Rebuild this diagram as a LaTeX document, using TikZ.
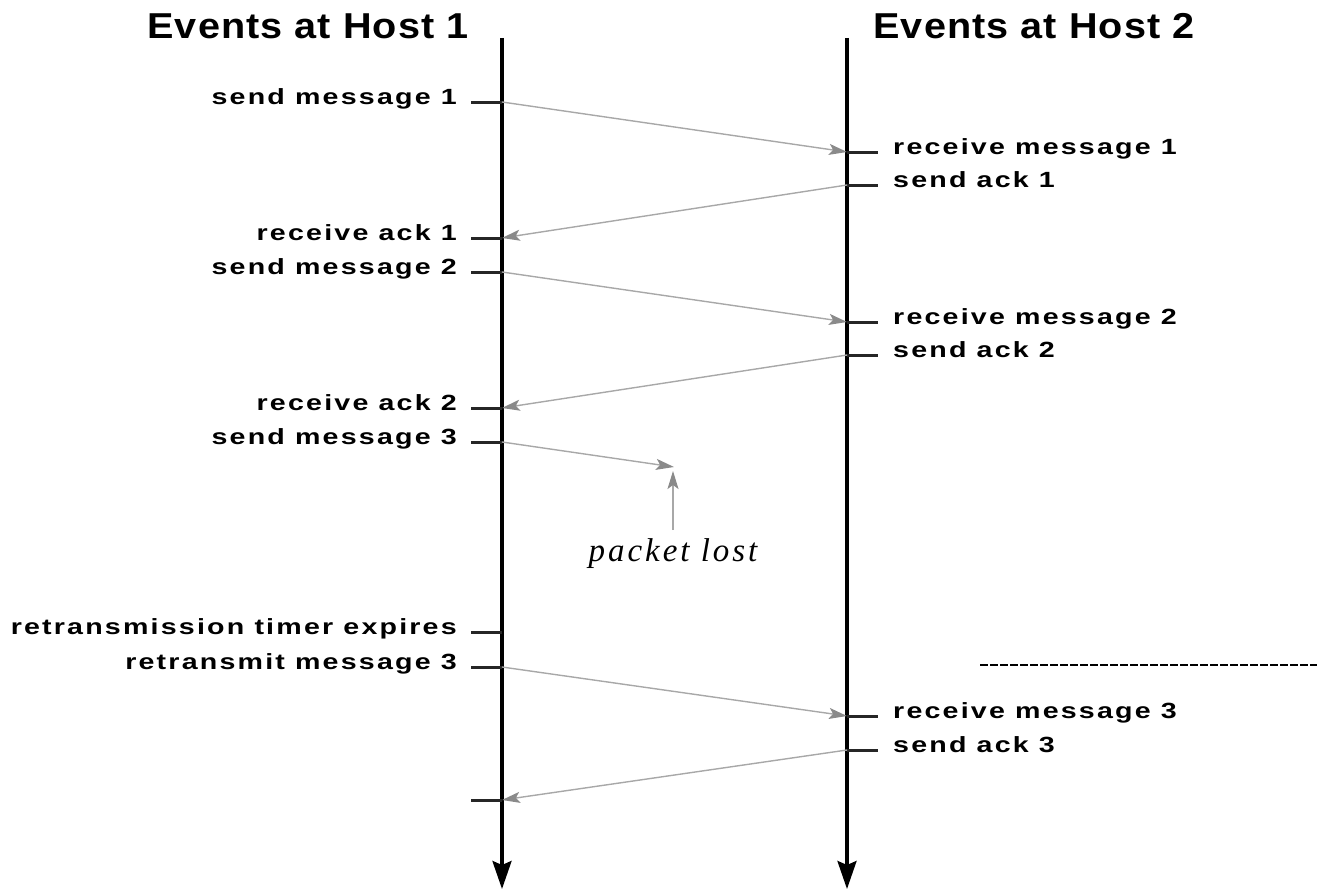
\documentclass[tikz,border=0pt]{standalone}
\usepackage{fontspec}
\usetikzlibrary{arrows.meta}
\newfontfamily\lblfont{Liberation Sans}[FakeStretch=1.3, LetterSpace=10]
\newfontfamily\ttlfont{Liberation Sans}[FakeStretch=1.1, LetterSpace=3]
\newfontfamily\lostfont{Liberation Serif}[LetterSpace=9]
\definecolor{msggray}{HTML}{A8A8A8}
\definecolor{tipgray}{HTML}{8A8A8A}
\tikzset{
  timeline/.style={line width=3.2pt, black, -{Stealth[length=28pt,width=19pt,inset=4pt]}},
  tick/.style={line width=3pt, black!85},
  msg/.style={line width=1.4pt, msggray, -{Stealth[length=18pt,width=11pt,inset=4pt,color=tipgray]}},
  lbl/.style={inner sep=0pt, font=\lblfont\bfseries\fontsize{22}{26}\selectfont},
  ttl/.style={inner sep=0pt, anchor=base, font=\ttlfont\bfseries\fontsize{36}{40}\selectfont},
  lost/.style={inner sep=0pt, anchor=base, font=\lostfont\itshape\fontsize{33}{38}\selectfont}
}
\begin{document}
\begin{tikzpicture}[x=1pt, y=-1pt]
\useasboundingbox (0,0) rectangle (1317,891);

% host time axes
\coordinate (h1top) at (502,38);
\coordinate (h1end) at (502,889);
\coordinate (h2top) at (847,38);
\coordinate (h2end) at (847,889);
\draw[timeline] (h1top) -- (h1end);
\draw[timeline] (h2top) -- (h2end);

\node[ttl] (t1) at (308,39) {Events at Host 1};
\node[ttl] (t2) at (1034,39) {Events at Host 2};

% event points on host 1
\coordinate (a1) at (502,102);
\coordinate (a2) at (502,238);
\coordinate (a3) at (502,272);
\coordinate (a4) at (502,408);
\coordinate (a5) at (502,442);
\coordinate (a6) at (502,632);
\coordinate (a7) at (502,667);
\coordinate (a8) at (502,800);
% event points on host 2
\coordinate (b1) at (847,152);
\coordinate (b2) at (847,185);
\coordinate (b3) at (847,322);
\coordinate (b4) at (847,355);
\coordinate (b5) at (847,716);
\coordinate (b6) at (847,750);

% ticks
\foreach \p in {a1,a2,a3,a4,a5,a6,a7,a8} \draw[tick] (\p) -- ++(-31,0);
\foreach \p in {b1,b2,b3,b4,b5,b6} \draw[tick] (\p) -- ++(31,0);

% host 1 labels
\node[lbl, anchor=mid east] (la1) at (457,102) {send message 1};
\node[lbl, anchor=mid east] (la2) at (457,238) {receive ack 1};
\node[lbl, anchor=mid east] (la3) at (457,272) {send message 2};
\node[lbl, anchor=mid east] (la4) at (457,408) {receive ack 2};
\node[lbl, anchor=mid east] (la5) at (457,442) {send message 3};
\node[lbl, anchor=mid east] (la6) at (457,632) {retransmission timer expires};
\node[lbl, anchor=mid east] (la7) at (457,667) {retransmit message 3};
% host 2 labels
\node[lbl, anchor=mid west] (lb1) at (893,152) {receive message 1};
\node[lbl, anchor=mid west] (lb2) at (893,185) {send ack 1};
\node[lbl, anchor=mid west] (lb3) at (893,322) {receive message 2};
\node[lbl, anchor=mid west] (lb4) at (893,355) {send ack 2};
\node[lbl, anchor=mid west] (lb5) at (893,716) {receive message 3};
\node[lbl, anchor=mid west] (lb6) at (893,750) {send ack 3};

% messages and acknowledgements
\draw[msg] (a1) -- (b1);
\draw[msg] (b2) -- (a2);
\draw[msg] (a3) -- (b3);
\draw[msg] (b4) -- (a4);
\coordinate (lostpt) at (674,467);
\draw[msg] (a5) -- (lostpt);
\draw[msg] (a7) -- (b5);
\draw[msg] (b6) -- (a8);

% lost packet annotation
\node[lost] (lost) at (673,561) {packet lost};
\coordinate (lostfoot) at (673,530);
\draw[msg] (lostfoot) -- (673,471);

% horizontal rule at the right
\coordinate (r1) at (980,665);
\coordinate (r2) at (1317,665);
\draw[line width=1.4pt, dash pattern=on 8pt off 2pt] (r1) -- (r2);
\end{tikzpicture}
\end{document}
